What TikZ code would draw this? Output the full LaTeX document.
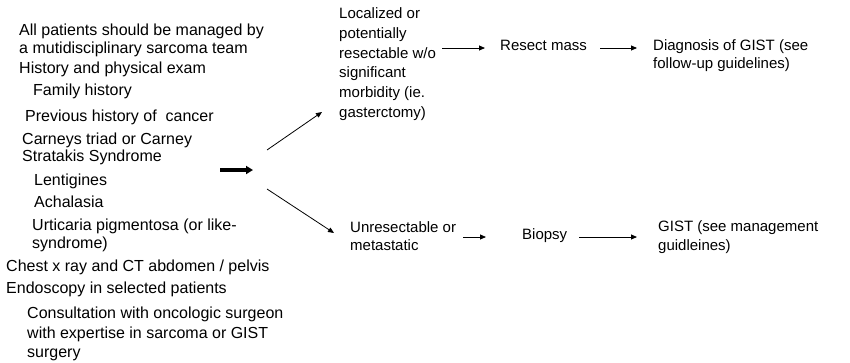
\documentclass[tikz,border=0pt]{standalone}
\usepackage{fontspec}
\setmainfont{Liberation Sans}
\usetikzlibrary{arrows.meta}
\begin{document}
\begin{tikzpicture}[x=1pt,y=-1pt,
 lt/.style={anchor=north west,inner sep=0pt,align=left,font=\fontsize{16}{18}\selectfont},
 rt/.style={anchor=north west,inner sep=0pt,align=left,font=\fontsize{15}{19.7}\selectfont},
 arr/.style={-{Triangle[length=6pt,width=5pt]},line width=0.8pt},
 bigarr/.style={-{Triangle[length=7pt,width=8pt]},line width=3.2pt}]
\useasboundingbox (0,0) rectangle (850,362);
% left column
\node[lt] (all) at (19,24.2) {All patients should be managed by\\a mutidisciplinary sarcoma team};
\node[lt] (hist) at (19,62) {History and physical exam};
\node[lt] (fam) at (33,84) {Family history};
\node[lt] (prev) at (25,110) {Previous history of\ \ cancer};
\node[lt,font=\fontsize{16}{16.5}\selectfont] (carn) at (22,133) {Carneys triad or Carney\\Stratakis Syndrome};
\node[lt] (lent) at (34,173.5) {Lentigines};
\node[lt] (acha) at (34,196) {Achalasia};
\node[lt,font=\fontsize{16}{18.5}\selectfont] (urt) at (32,218.5) {Urticaria pigmentosa (or like-\\syndrome)};
\node[lt] (chest) at (6,260) {Chest x ray and CT abdomen / pelvis};
\node[lt] (endo) at (6,282) {Endoscopy in selected patients};
\node[lt,font=\fontsize{16}{19.3}\selectfont] (cons) at (27,307) {Consultation with oncologic surgeon\\with expertise in sarcoma or GIST\\surgery};
% right part
\node[rt] (loc) at (339,7.6) {Localized or\\potentially\\resectable w/o\\significant\\morbidity (ie.\\gasterctomy)};
\node[rt] (resect) at (500,39.6) {Resect mass};
\node[rt,font=\fontsize{15}{17.5}\selectfont] (diag) at (653,39.6) {Diagnosis of GIST (see\\follow-up guidelines)};
\node[rt,font=\fontsize{15}{18}\selectfont] (unres) at (350,221.6) {Unresectable or\\metastatic};
\node[rt] (biop) at (522,228.6) {Biopsy};
\node[rt,font=\fontsize{15}{19}\selectfont] (gist) at (658,220.6) {GIST (see management\\guidleines)};
% connectors
\coordinate (t1) at (220,170);
\coordinate (t2) at (253,170);
\draw[bigarr] (t1) -- (t2);
\coordinate (d1) at (267,150);
\coordinate (d2) at (267,189);
\draw[arr] (d1) -- ([xshift=-17pt]loc.west |- 0,112);
\draw[arr] (d2) -- ([xshift=-16pt]unres.west |- 0,233);
\draw[arr] ([xshift=6pt]loc.east |- 0,48) -- ([xshift=-15pt]resect.west |- 0,48);
\draw[arr] ([xshift=13pt]resect.east |- 0,48) -- ([xshift=-16pt]diag.west |- 0,48);
\draw[arr] ([xshift=7pt]unres.east |- 0,237) -- ([xshift=-36pt]biop.west |- 0,237);
\draw[arr] ([xshift=12pt]biop.east |- 0,237) -- ([xshift=-21pt]gist.west |- 0,237);
\end{tikzpicture}
\end{document}
